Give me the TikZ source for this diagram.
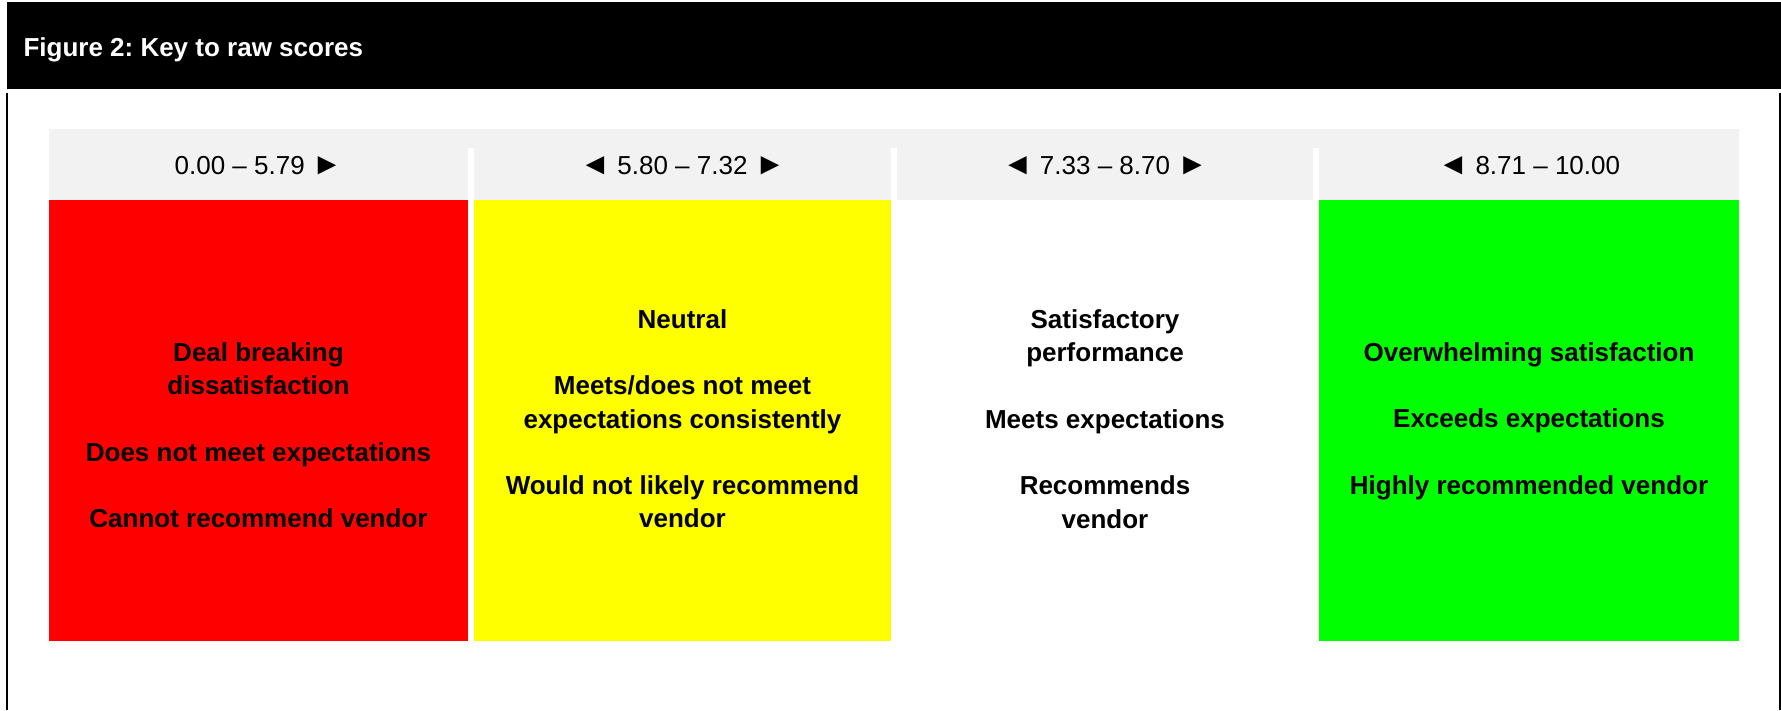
\documentclass[tikz,border=0pt]{standalone}
\usepackage{fontspec}
\usepackage{graphicx}
\setmainfont{Liberation Sans}
\frenchspacing
\definecolor{bandgray}{HTML}{F2F2F2}
\definecolor{cred}{HTML}{FF0000}
\definecolor{cyellow}{HTML}{FFFF00}
\definecolor{cgreen}{HTML}{00FF00}
\newcommand{\rtri}{\raisebox{-0.5pt}{\scalebox{1.18}{►}}}
\newcommand{\ltri}{\raisebox{-0.5pt}{\scalebox{1.18}{◄}}}
\begin{document}
\begin{tikzpicture}[x=1pt,y=-1pt,
  rangelbl/.style={anchor=base, inner sep=0pt, text=black, font=\fontsize{26}{31}\selectfont},
  desc/.style={align=center, inner sep=0pt, text=black, font=\bfseries\fontsize{26}{33.33}\selectfont},
  titlelbl/.style={anchor=base west, inner sep=0pt, text=white, font=\bfseries\fontsize{26}{31}\selectfont},
  frameline/.style={line width=1.4pt, draw=black}
  ]
\useasboundingbox (0,0) rectangle (1781,710);
% header bar
\fill[black] (7,2) rectangle (1781,89.3);
\node[titlelbl] (title) at (23.3,56.7) {Figure 2: Key to raw scores};
% side lines
\draw[frameline] (7,92.7) -- (7,710);
\draw[frameline] (1780,92.7) -- (1780,710);
% gray band with gaps
\fill[bandgray] (49,129) rectangle (1739,199.5);
\fill[white] (468.3,148) rectangle (474,199.5);
\fill[white] (891,148) rectangle (897,199.5);
\fill[white] (1313,148) rectangle (1319,199.5);
% colour boxes
\fill[cred] (49,199.5) rectangle (468.3,640.7);
\fill[cyellow] (474,199.5) rectangle (891,640.7);
\fill[cgreen] (1319,199.5) rectangle (1739,640.7);
% range labels
\node[rangelbl] (r1) at (258.5,174.3) {0.00 – 5.79 \rtri};
\node[rangelbl] (r2) at (682.5,174.3) {\ltri{} 5.80 – 7.32 \rtri};
\node[rangelbl] (r3) at (1105,174.3) {\ltri{} 7.33 – 8.70 \rtri};
\node[rangelbl] (r4) at (1529,174.3) {\ltri{} 8.71 – 10.00};
% descriptions
\node[desc] (t1) at (258.5,435.3) {Deal breaking\\dissatisfaction\\[33.33pt]Does not meet expectations\\[33.33pt]Cannot recommend vendor};
\node[desc] (t2) at (682.5,418.7) {Neutral\\[33.33pt]Meets/does not meet\\expectations consistently\\[33.33pt]Would not likely recommend\\vendor};
\node[desc] (t3) at (1105,419) {Satisfactory\\performance\\[33.33pt]Meets expectations\\[33.33pt]Recommends\\vendor};
\node[desc] (t4) at (1529,421.3) {Overwhelming satisfaction\\[33.33pt]Exceeds expectations\\[33.33pt]Highly recommended vendor};
\end{tikzpicture}
\end{document}
